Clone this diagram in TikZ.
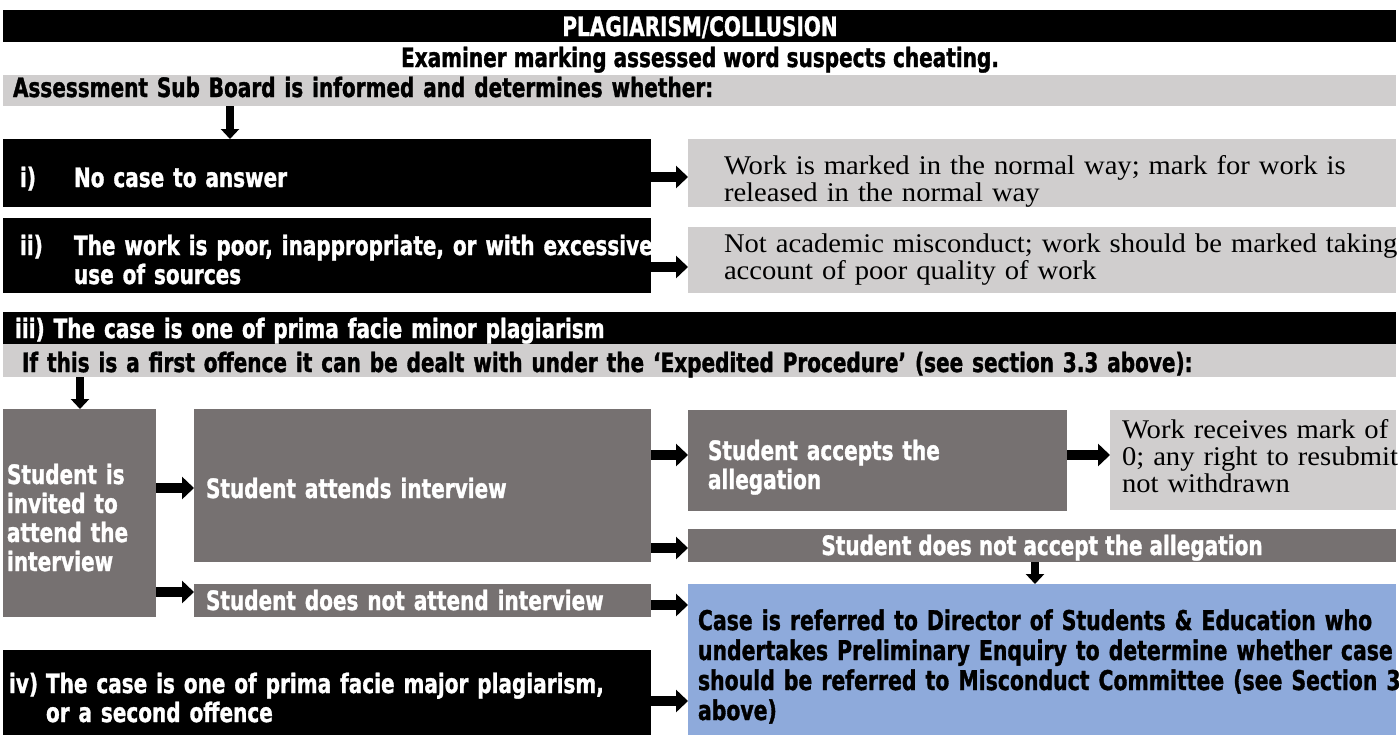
\documentclass[tikz,border=0pt]{standalone}
\usepackage{fontspec}
\usetikzlibrary{arrows.meta}
\newfontfamily\condfont{DejaVu Sans}[FakeStretch=0.75, BoldFeatures={FakeBold=1.2}]
\newfontfamily\serifwide{Liberation Serif}[FakeStretch=1.06]
\definecolor{lgray}{HTML}{D0CECE}
\definecolor{dgray}{HTML}{767171}
\definecolor{lblue}{HTML}{8EAADB}
\begin{document}
\begin{tikzpicture}[x=1pt, y=-1pt,
  every node/.style={inner sep=0pt, outer sep=0pt},
  panel/.style={anchor=north west},
  blk/.style={panel, fill=black},
  lg/.style={panel, fill=lgray},
  dg/.style={panel, fill=dgray},
  bl/.style={panel, fill=lblue},
  sanst/.style={font=\condfont\bfseries\fontsize{26.7}{29}\selectfont, text width=1400pt, align=left, anchor=base west},
  sansc/.style={font=\condfont\bfseries\fontsize{26.7}{29}\selectfont, anchor=base},
  bluet/.style={font=\condfont\bfseries\fontsize{27.2}{30}\selectfont, text width=1400pt, align=left, anchor=base west},
  serift/.style={font=\serifwide\fontsize{27}{27}\selectfont, text width=1400pt, align=left, anchor=base west},
  harr/.style={line width=10pt, -{Triangle[length=12pt, width=22pt]}},
  varr/.style={line width=8pt, -{Triangle[length=10pt, width=18pt]}}
]
\fill[white] (0,0) rectangle (1399,737);
\useasboundingbox (0,0) rectangle (1399,737);

% header and intro bars
\node[blk, minimum width=1393, minimum height=32] (title) at (3,10) {};
\node[lg, minimum width=1393, minimum height=31] (asb) at (3,75) {};

% outcomes i) and ii)
\node[blk, minimum width=648, minimum height=68] (bi) at (3,139) {};
\node[lg, minimum width=708, minimum height=68] (ri) at (688,139) {};
\node[blk, minimum width=648, minimum height=75] (bii) at (3,218) {};
\node[lg, minimum width=708, minimum height=66] (rii) at (688,227) {};

% outcome iii) and the expedited procedure
\node[blk, minimum width=1393, minimum height=32] (biii) at (3,312) {};
\node[lg, minimum width=1393, minimum height=33] (bexp) at (3,344) {};
\node[dg, minimum width=153, minimum height=208] (binv) at (3,409) {};
\node[dg, minimum width=457, minimum height=153] (batt) at (194,409) {};
\node[dg, minimum width=457, minimum height=33] (bdna) at (194,584) {};
\node[dg, minimum width=379, minimum height=101] (bacc) at (688,410) {};
\node[lg, minimum width=286, minimum height=100] (bwork) at (1110,410) {};
\node[dg, minimum width=708, minimum height=33] (bdnacc) at (688,529) {};
\node[bl, minimum width=708, minimum height=151] (bblue) at (688,584) {};

% outcome iv)
\node[blk, minimum width=648, minimum height=85] (biv) at (3,650) {};

% texts
\node[sansc, white] (titlet) at (700,36) {PLAGIARISM/COLLUSION};
\node[sansc] (examt) at (700,67) {Examiner marking assessed word suspects cheating.};
\node[sanst] (asbt) at (13,97) {Assessment Sub Board is informed and determines whether:};
\node[sanst, white] (bit) at (20,187) {\makebox[54pt][l]{i)}No case to answer};
\node[serift] (rit) at (724,174) {Work is marked in the normal way; mark for work is\\released in the normal way};
\node[sanst, white] (biit) at (20,255) {\makebox[54pt][l]{ii)}The work is poor, inappropriate, or with excessive\\\hspace*{54pt}use of sources};
\node[serift] (riit) at (724,252) {Not academic misconduct; work should be marked taking\\account of poor quality of work};
\node[sanst, white] (biiit) at (15,338) {iii) The case is one of prima facie minor plagiarism};
\node[sanst] (bexpt) at (22,372) {If this is a first offence it can be dealt with under the ‘Expedited Procedure’ (see section 3.3 above):};
\node[sanst, white] (binvt) at (7,484) {Student is\\invited to\\attend the\\interview};
\node[sanst, white] (battt) at (206,498) {Student attends interview};
\node[sanst, white] (bdnat) at (206,610) {Student does not attend interview};
\node[sanst, white] (bacct) at (708,460) {Student accepts the\\allegation};
\node[serift] (bworkt) at (1122,438) {Work receives mark of\\0; any right to resubmit\\not withdrawn};
\node[sansc, white] (bdnacct) at (1042,555) {Student does not accept the allegation};
\node[bluet] (bbluet) at (698,630) {Case is referred to Director of Students \& Education who\\undertakes Preliminary Enquiry to determine whether case\\should be referred to Misconduct Committee (see Section 3\\above)};
\node[sanst, white] (bivt) at (9,693) {\makebox[37pt][l]{iv)}The case is one of prima facie major plagiarism,\\\hspace*{37pt}or a second offence};

% connectors
\draw[varr] ([xshift=227pt]asb.south west) -- ([xshift=227pt]bi.north west);
\draw[harr] ([yshift=-4pt]bi.east) -- ([yshift=-4pt]ri.west);
\draw[harr] ([yshift=-11.5pt]bii.east) -- ([yshift=-7pt]rii.west);
\draw[varr] ([xshift=77pt]bexp.south west) -- ([xshift=77pt]binv.north west);
\draw[harr] ([yshift=25pt]binv.east) -- ([yshift=-2.5pt]batt.west);
\draw[harr] ([yshift=-79pt]binv.east) -- ([yshift=8.5pt]bdna.west);
\draw[harr] ([yshift=30.5pt]batt.east) -- ([yshift=5.5pt]bacc.west);
\draw[harr] ([yshift=-62.5pt]batt.east) -- ([yshift=-2.5pt]bdnacc.west);
\draw[harr] ([yshift=5.5pt]bacc.east) -- ([yshift=5pt]bwork.west);
\draw[varr] ([xshift=347pt]bdnacc.south west) -- ([xshift=347pt]bblue.north west);
\draw[harr] ([yshift=-4.5pt]bdna.east) -- ([yshift=54.5pt]bblue.west);
\draw[harr] ([yshift=-8.5pt]biv.east) -- ([yshift=-41.5pt]bblue.west);
\end{tikzpicture}
\end{document}
